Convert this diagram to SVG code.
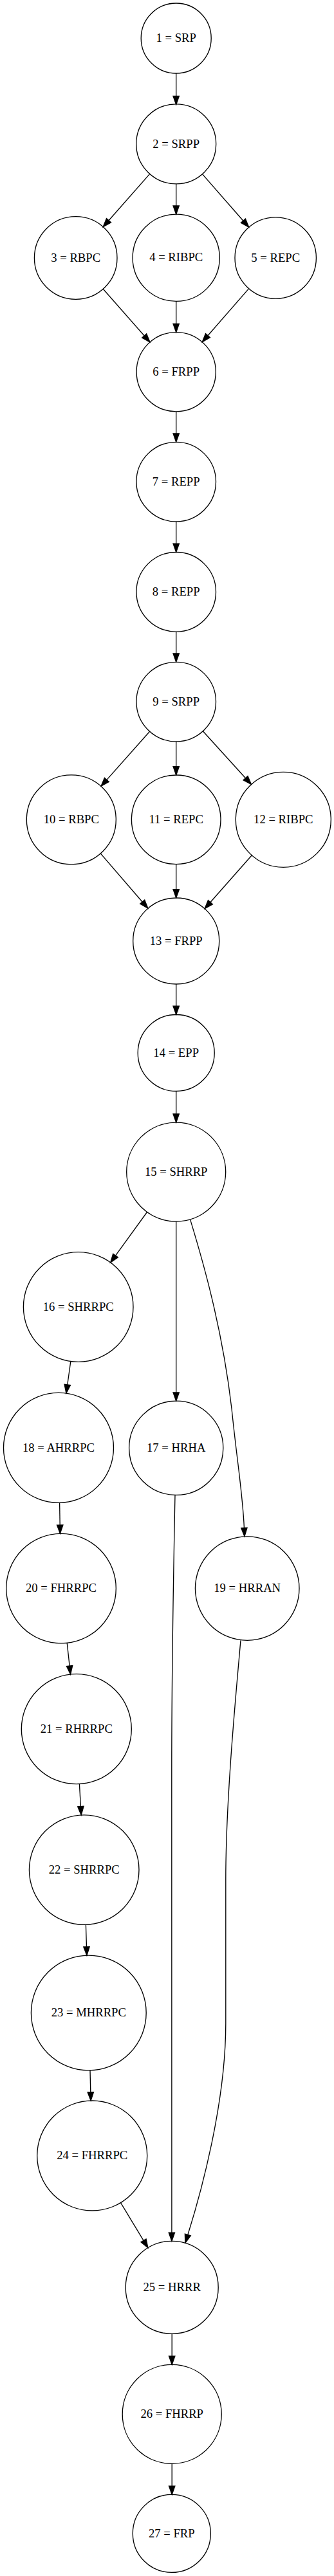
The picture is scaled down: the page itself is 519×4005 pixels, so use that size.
<svg xmlns="http://www.w3.org/2000/svg" width="519" height="4005" viewBox="0 0 519 4005">
<style>
.node circle{fill:none;stroke:#000;stroke-width:1.33}
.node text{font-family:"Liberation Serif","Times New Roman",serif;font-size:18.67px;text-anchor:middle;fill:#000}
.edges path{fill:none;stroke:#000;stroke-width:1.33;marker-end:url(#arr)}
</style>
<defs>
<marker id="arr" markerUnits="userSpaceOnUse" viewBox="-1 -6 16 12" markerWidth="16" markerHeight="12" refX="0" refY="0" orient="auto" overflow="visible">
<path d="M0,-4.67 L13.33,0 L0,4.67 z" fill="#000" stroke="#000" stroke-width="1.33"/>
</marker>
</defs>
<rect width="519" height="4005" fill="#fff"/>
<g class="edges">
<path d="M273.7,114 L273.7,149.3"/>
<path d="M232.7,270.4 L169,342.8"/>
<path d="M273.7,285.9 L273.7,319.9"/>
<path d="M314.4,270.6 L377.9,343.2"/>
<path d="M160.2,449.3 L224.2,522"/>
<path d="M273.7,468.4 L273.7,503.3"/>
<path d="M386.7,448.6 L323,521.7"/>
<path d="M273.7,639.8 L273.7,674"/>
<path d="M273.7,810.9 L273.7,845.2"/>
<path d="M273.7,982.1 L273.7,1016"/>
<path d="M232.6,1137.3 L165.9,1212.4"/>
<path d="M273.7,1152.9 L273.7,1191.7"/>
<path d="M315.3,1136.8 L381.5,1209.7"/>
<path d="M156.2,1326.9 L221.2,1402.2"/>
<path d="M273.7,1343.6 L273.7,1382.7"/>
<path d="M391.3,1329.8 L326.9,1402.8"/>
<path d="M273.7,1530 L273.7,1564.2"/>
<path d="M273.7,1696.5 L273.7,1731.8"/>
<path d="M228.5,1884.5 L179.5,1952.1"/>
<path d="M273.7,1899.1 L273.7,2164.9"/>
<path d="M295.7,1896.4 C312,1950 345,2060 360,2190 C368,2270 377,2320 379.4,2375.3"/>
<path d="M109.85,2116.5 L104.75,2153"/>
<path d="M92.6,2336.4 L93.2,2371"/>
<path d="M104.2,2554.4 L108.1,2589.95"/>
<path d="M123.4,2773.6 L125.4,2808.6"/>
<path d="M133.4,2992.4 L134.5,3026.8"/>
<path d="M140,3218.9 L140.8,3252.7"/>
<path d="M187.5,3424.6 L223,3483.4"/>
<path d="M272,2324.4 C269.5,2450 266.8,2600 266.8,2750 L266.9,3471.1"/>
<path d="M374,2550.4 C366,2640 350.8,2800 350.8,2923 L350.8,3146 C350.8,3270 312,3410 291.85,3474.5"/>
<path d="M267.2,3628.4 L267.2,3663.1"/>
<path d="M267.2,3830.4 L267.2,3865.1"/>
</g>
<g id="n1" class="node"><circle cx="273.7" cy="59.5" r="54.5"/><text x="273.7" y="65.1">1 = SRP</text></g>
<g id="n2" class="node"><circle cx="273.7" cy="223.9" r="62"/><text x="273.7" y="229.5">2 = SRPP</text></g>
<g id="n3" class="node"><circle cx="117.7" cy="401" r="64.3"/><text x="117.7" y="406.6">3 = RBPC</text></g>
<g id="n4" class="node"><circle cx="273.7" cy="400.8" r="67.6"/><text x="273.7" y="406.4">4 = RIBPC</text></g>
<g id="n5" class="node"><circle cx="428.2" cy="401" r="63.2"/><text x="428.2" y="406.6">5 = REPC</text></g>
<g id="n6" class="node"><circle cx="273.7" cy="578.2" r="61.6"/><text x="273.7" y="583.8">6 = FRPP</text></g>
<g id="n7" class="node"><circle cx="273.7" cy="749.1" r="61.8"/><text x="273.7" y="754.7">7 = REPP</text></g>
<g id="n8" class="node"><circle cx="273.7" cy="920.3" r="61.8"/><text x="273.7" y="925.9">8 = REPP</text></g>
<g id="n9" class="node"><circle cx="273.7" cy="1091.1" r="61.8"/><text x="273.7" y="1096.7">9 = SRPP</text></g>
<g id="n10" class="node"><circle cx="110.8" cy="1274.3" r="69.5"/><text x="110.8" y="1279.9">10 = RBPC</text></g>
<g id="n11" class="node"><circle cx="273.7" cy="1274.3" r="69.3"/><text x="273.7" y="1279.9">11 = REPC</text></g>
<g id="n12" class="node"><circle cx="440.3" cy="1274.3" r="74"/><text x="440.3" y="1279.9">12 = RIBPC</text></g>
<g id="n13" class="node"><circle cx="273.7" cy="1463" r="67"/><text x="273.7" y="1468.6">13 = FRPP</text></g>
<g id="n14" class="node"><circle cx="273.7" cy="1637" r="59.5"/><text x="273.7" y="1642.6">14 = EPP</text></g>
<g id="n15" class="node"><circle cx="273.7" cy="1822.1" r="77"/><text x="273.7" y="1827.7">15 = SHRRP</text></g>
<g id="n16" class="node"><circle cx="121.7" cy="2032" r="85.3"/><text x="121.7" y="2037.6">16 = SHRRPC</text></g>
<g id="n17" class="node"><circle cx="273.7" cy="2251.3" r="73.1"/><text x="273.7" y="2256.9">17 = HRHA</text></g>
<g id="n18" class="node"><circle cx="91" cy="2250.9" r="85.5"/><text x="91" y="2256.5">18 = AHRRPC</text></g>
<g id="n19" class="node"><circle cx="384.2" cy="2469.6" r="80.8"/><text x="384.2" y="2475.2">19 = HRRAN</text></g>
<g id="n20" class="node"><circle cx="95" cy="2469.6" r="85.3"/><text x="95" y="2475.2">20 = FHRRPC</text></g>
<g id="n21" class="node"><circle cx="118.8" cy="2688.2" r="85.5"/><text x="118.8" y="2693.8">21 = RHRRPC</text></g>
<g id="n22" class="node"><circle cx="130.7" cy="2907.1" r="85.3"/><text x="130.7" y="2912.7">22 = SHRRPC</text></g>
<g id="n23" class="node"><circle cx="137.8" cy="3129.5" r="89.4"/><text x="137.8" y="3135.1">23 = MHRRPC</text></g>
<g id="n24" class="node"><circle cx="143.2" cy="3351.5" r="85.5"/><text x="143.2" y="3357.1">24 = FHRRPC</text></g>
<g id="n25" class="node"><circle cx="267.2" cy="3556.4" r="72"/><text x="267.2" y="3562">25 = HRRR</text></g>
<g id="n26" class="node"><circle cx="267.2" cy="3753.4" r="77"/><text x="267.2" y="3759">26 = FHRRP</text></g>
<g id="n27" class="node"><circle cx="266.8" cy="3938.9" r="60.5"/><text x="266.8" y="3944.5">27 = FRP</text></g>
</svg>
